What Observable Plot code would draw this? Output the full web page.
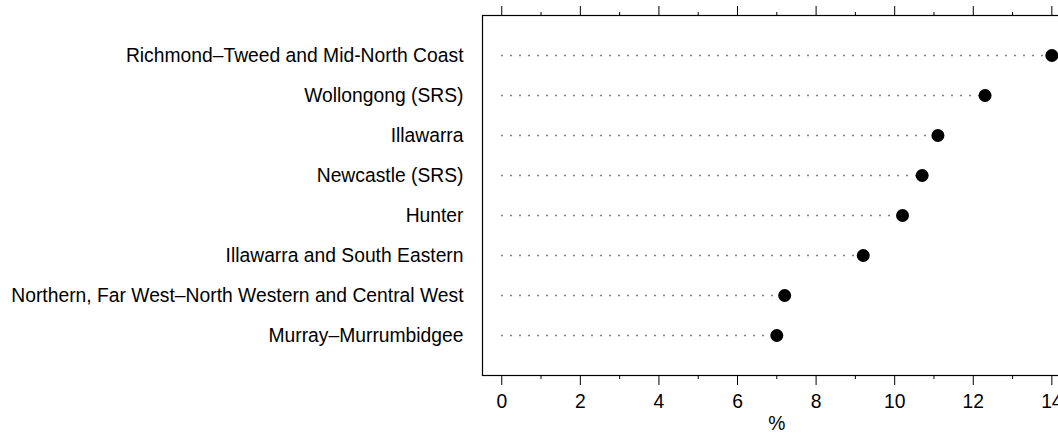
<!DOCTYPE html>
<html>
<head>
<meta charset="utf-8">
<script src="https://cdn.jsdelivr.net/npm/d3@7"></script>
<script src="https://cdn.jsdelivr.net/npm/@observablehq/plot@0.6"></script>
<style>
  html, body { margin: 0; padding: 0; background: white; overflow: hidden; }
</style>
</head>
<body>
<div id="chart"></div>
<script>
const regions = [
  "Richmond–Tweed and Mid-North Coast",
  "Wollongong (SRS)",
  "Illawarra",
  "Newcastle (SRS)",
  "Hunter",
  "Illawarra and South Eastern",
  "Northern, Far West–North Western and Central West",
  "Murray–Murrumbidgee"
];
const values = [14.0, 12.3, 11.1, 10.7, 10.2, 9.2, 7.2, 7.0];
const majorTicks = [0, 2, 4, 6, 8, 10, 12, 14];
const minorTicks = [1, 3, 5, 7, 9, 11, 13];
const axisLabel = "%";

const data = regions.map((r, i) => ({region: r, value: values[i]}));

const FS = 19.3;
const chart = Plot.plot({
  width: 1058,
  height: 437,
  marginTop: 15,
  marginBottom: 62,
  marginLeft: 482,
  marginRight: -13,
  style: {fontFamily: "'Liberation Sans', Arial, sans-serif", fontSize: FS + "px", background: "white", color: "black"},
  x: {domain: [-0.49, 14.5]},
  y: {domain: regions, type: "point", padding: 1},
  marks: [
    Plot.ruleY(data, {y: "region", x1: 0, x2: "value", stroke: "#555", strokeWidth: 1.4, strokeDasharray: "1.5,7.5"}),
    Plot.dot(data, {x: "value", y: "region", r: 6.5, fill: "black", stroke: "none"}),
    Plot.frame({stroke: "black", strokeWidth: 1.2}),
    Plot.axisY({tickSize: 0, tickPadding: 19, label: null, fontSize: FS, fill: "black"}),
    Plot.axisX({ticks: majorTicks, anchor: "bottom", tickSize: 10, tickPadding: 9, label: null, fontSize: FS, tickFormat: d => String(d)}),
    Plot.axisX({ticks: minorTicks, anchor: "bottom", tickSize: 4, label: null, tickFormat: () => ""}),
    Plot.axisX({ticks: majorTicks, anchor: "top", tickSize: 10, label: null, tickFormat: () => ""}),
    Plot.axisX({ticks: minorTicks, anchor: "top", tickSize: 4, label: null, tickFormat: () => ""}),
    Plot.text([axisLabel], {x: 7, frameAnchor: "bottom", dy: 48, text: d => d, fontSize: FS, fill: "black", lineAnchor: "middle"})
  ]
});
document.getElementById("chart").appendChild(chart);
</script>
</body>
</html>
